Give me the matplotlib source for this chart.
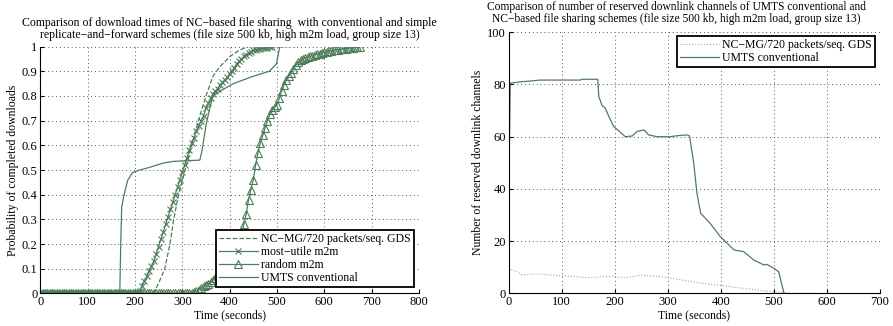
import numpy as np
import matplotlib
matplotlib.use("Agg")
import matplotlib.pyplot as plt

plt.rcParams['font.family'] = ['Liberation Serif', 'DejaVu Serif']

GREEN = '#4e7d5b'

# ---- left panel: download time CDFs ----
t_utile = np.arange(0, 495, 5)
p_utile = [0.0] * 42 + [
    0.01, 0.03, 0.05, 0.07, 0.09, 0.11, 0.13, 0.16, 0.19, 0.22,
    0.25, 0.28, 0.31, 0.34, 0.37, 0.40, 0.43, 0.46, 0.49, 0.52,
    0.55, 0.58, 0.61, 0.63, 0.66, 0.68, 0.70, 0.72, 0.75, 0.77,
    0.79, 0.81, 0.82, 0.83, 0.845, 0.855, 0.865, 0.875, 0.89, 0.90,
    0.915, 0.93, 0.94, 0.95, 0.96, 0.968, 0.975, 0.98, 0.985, 0.988,
    0.99, 0.992, 0.993, 0.995, 0.996, 0.998, 1.0]

t_random = np.arange(0, 680, 5)
p_random = [0.0] * 65 + [
    0.005, 0.01, 0.015, 0.022, 0.03, 0.035, 0.04, 0.048, 0.055, 0.063,
    0.07, 0.08, 0.09, 0.10, 0.11, 0.12, 0.135, 0.15, 0.18, 0.21,
    0.245, 0.28, 0.32, 0.38, 0.42, 0.46, 0.52, 0.57, 0.61, 0.64,
    0.67, 0.70, 0.725, 0.745, 0.755, 0.765, 0.79, 0.82, 0.845, 0.865,
    0.88, 0.895, 0.91, 0.925, 0.937, 0.945, 0.95, 0.955, 0.958, 0.961,
    0.964, 0.967, 0.97, 0.972, 0.975, 0.977, 0.979, 0.981, 0.983, 0.985,
    0.987, 0.988, 0.99, 0.991, 0.992, 0.993, 0.995, 0.996, 0.997, 0.998,
    1.0]

t_gds = [0, 239, 252, 263, 274, 282, 292, 306, 320, 334, 350, 365, 380,
         401, 420, 439, 540]
p_gds = [0, 0, 0.05, 0.1, 0.2, 0.3, 0.4, 0.5, 0.6, 0.7, 0.8, 0.88, 0.92,
         0.96, 0.985, 1.0, 1.0]

t_umts = [0, 168, 170, 172, 177, 185, 195, 210, 230, 246, 260, 281, 337,
          342, 350, 358, 365, 380, 408, 450, 484, 499, 506, 517]
p_umts = [0, 0, 0.2, 0.35, 0.4, 0.46, 0.49, 0.5, 0.51, 0.52, 0.528, 0.535,
          0.54, 0.58, 0.68, 0.75, 0.8, 0.82, 0.85, 0.88, 0.9, 0.93, 1.0, 1.0]

# ---- right panel: reserved downlink channels ----
t_ch_umts = [0, 3, 22, 60, 135, 138, 168, 170, 176, 182, 189, 198, 208, 220,
             233, 242, 255, 264, 280, 305, 318, 336, 341, 349, 355, 362, 380,
             399, 406, 425, 443, 462, 481, 487, 500, 509, 516, 519, 522]
n_ch_umts = [35, 80.5, 81, 81.7, 81.7, 82, 82, 75.4, 72, 71, 67.7, 63.9,
             62.2, 60, 60.3, 62, 62.6, 60.7, 60, 60, 60.4, 60.7, 60.3, 49.8,
             38.3, 30.7, 26.8, 21.7, 20.4, 16.6, 16, 12.8, 10.9, 11.1, 9.6,
             8.3, 2.6, 0, 0]

t_ch_gds = [0, 5, 15, 25, 50, 80, 120, 150, 190, 220, 250, 280, 300, 330,
            360, 400, 440, 480, 510, 530, 580]
n_ch_gds = [10, 9, 8.5, 7, 7.5, 7, 6.5, 6, 6.5, 6, 7, 6.5, 6, 5, 4, 3, 2,
            1, 0.5, 0, 0]


def style_axes(ax):
    ax.spines['top'].set_visible(False)
    ax.spines['right'].set_visible(False)
    ax.tick_params(direction='in', labelsize=9, length=3, pad=2)
    ax.grid(True, linestyle=(0, (1, 3)), color='#555555', linewidth=0.7)
    ax.set_axisbelow(True)


def boxed_legend(ax, loc, anchor):
    leg = ax.legend(loc=loc, fontsize=8.5, handlelength=3.3,
                    borderpad=0.25, labelspacing=0.1, handletextpad=0.3,
                    borderaxespad=0, fancybox=False, framealpha=1,
                    edgecolor='black', bbox_to_anchor=anchor)
    leg.get_frame().set_linewidth(1.3)
    return leg


fig = plt.figure(figsize=(8.93, 3.26), dpi=100)

ax1 = fig.add_axes([0.0451, 0.100, 0.424, 0.757])
ax1.plot(t_gds, p_gds, '--', color=GREEN, lw=0.9,
         label='NC\u2212MG/720 packets/seq. GDS')
ax1.plot(t_utile, p_utile, '-x', color=GREEN, lw=0.9, ms=4, mew=0.8,
         label='most\u2212utile m2m')
ax1.plot(t_random, p_random, '-^', color=GREEN, lw=0.9, ms=5.5, mew=0.8,
         mfc='none', label='random m2m')
ax1.plot(t_umts, p_umts, '-', color=GREEN, lw=0.9, label='UMTS conventional')
ax1.set_xlim(0, 800)
ax1.set_ylim(0, 1)
ax1.set_xticks(range(0, 801, 100))
ax1.set_yticks(np.arange(0, 1.01, 0.1))
ax1.set_yticklabels(['0', '0.1', '0.2', '0.3', '0.4', '0.5', '0.6', '0.7',
                     '0.8', '0.9', '1'])
style_axes(ax1)
ax1.set_xlabel('Time (seconds)', fontsize=8.5, labelpad=1)
ax1.set_ylabel('Probability of completed downloads', fontsize=8.5, labelpad=2)
ax1.set_title('Comparison of download times of NC\u2212based file sharing  with conventional and simple\n'
              'replicate\u2212and\u2212forward schemes (file size 500 kb, high m2m load, group size 13)',
              fontsize=8.5, pad=6, linespacing=1.05)
boxed_legend(ax1, 'lower right', (0.987, 0.025))

ax2 = fig.add_axes([0.5696, 0.100, 0.4158, 0.801])
ax2.plot(t_ch_gds, n_ch_gds, ':', color='#8fb09a', lw=0.8,
         label='NC\u2212MG/720 packets/seq. GDS')
ax2.plot(t_ch_umts, n_ch_umts, '-', color=GREEN, lw=0.9,
         label='UMTS conventional')
ax2.set_xlim(0, 700)
ax2.set_ylim(0, 100)
ax2.set_xticks(range(0, 701, 100))
ax2.set_yticks(range(0, 101, 20))
style_axes(ax2)
ax2.set_xlabel('Time (seconds)', fontsize=8.5, labelpad=1)
ax2.set_ylabel('Number of reserved downlink channels', fontsize=8.5, labelpad=2)
fig.text(0.757, 0.998,
         'Comparison of number of reserved downlink channels of UMTS conventional and\n'
         'NC\u2212based file sharing schemes (file size 500 kb, high m2m load, group size 13)',
         ha='center', va='top', fontsize=8.3, linespacing=1.05)
boxed_legend(ax2, 'upper right', (0.9865, 0.986))

fig.savefig('out.png', dpi=100)
